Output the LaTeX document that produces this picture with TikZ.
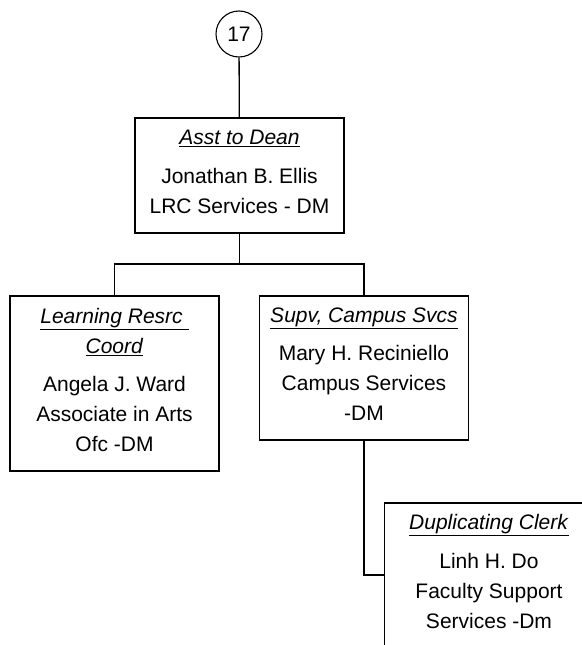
\documentclass[tikz,border=0pt]{standalone}
\usepackage{fontspec}
\setmainfont{Liberation Sans}
\usepackage{tikz}
\usetikzlibrary{calc,positioning}
\tikzset{
	post/.style={draw, line width=1.5pt, minimum width=209, inner sep=0pt, align=center,
		text depth=7pt, font=\fontsize{21}{30}\selectfont},
	refcirc/.style={draw, circle, line width=1.1pt, minimum size=46, inner sep=0pt,
		font=\fontsize{21}{25}\selectfont},
	link/.style={line width=1.3pt}
}
\def\job#1{\underline{\textit{#1}}}

\begin{document}
\begin{tikzpicture}[x=1pt, y=-1pt]
			%%%%% START %%%%%
			\useasboundingbox (0, 0) rectangle (581, 645);
			
			\node[refcirc] (ref) at (239, 34) {17};
			
			\node[post, minimum height=115] (dean) at (239.5, 175.5)
				{\job{Asst to Dean}\\[9pt] Jonathan B. Ellis\\ LRC Services - DM};
			
			\node[post, minimum height=175] (lrc) at (114.5, 383.5)
				{\job{Learning Resrc\ }\\ \job{Coord}\\[8pt] Angela J. Ward\\ Associate in Arts\\ Ofc -DM};
			\node[post, minimum height=144] (supv) at (364, 368)
				{\job{Supv, Campus Svcs}\\[8pt] Mary H. Reciniello\\ Campus Services\\ -DM};
			
			\node[post, minimum height=144] (dup) at (489, 575)
				{\job{Duplicating Clerk}\\[9pt] Linh H. Do\\ Faculty Support\\ Services -Dm};
			
			\coordinate (bus) at (239.5, 264);
			
			\draw[link] (ref) -- (dean);
			\draw[link] (dean) -- (bus);
			\draw[link] (lrc.north) |- (bus) -| (supv.north);
			\draw[link] (supv.south) |- (dup.west);
			
			%%%%% END %%%%%
		\end{tikzpicture}
\end{document}
